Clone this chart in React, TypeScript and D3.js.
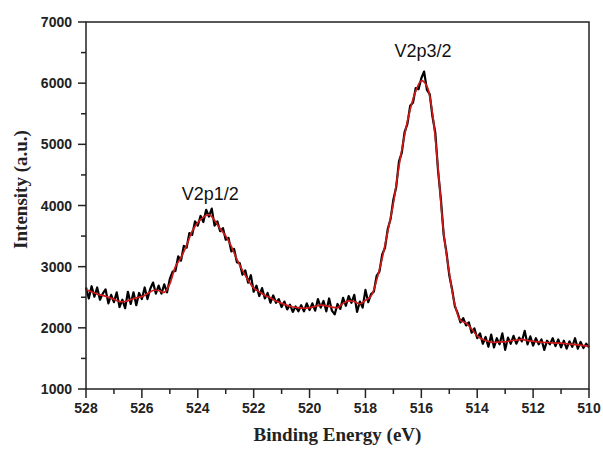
import React from "react";
import * as d3 from "d3";

const energyStart = 528;
const energyStep = 0.1;

const measured = [
  2660, 2480, 2680, 2510, 2660, 2460, 2560, 2630, 2400, 2540,
  2420, 2580, 2340, 2460, 2320, 2590, 2390, 2580, 2370, 2570,
  2470, 2660, 2470, 2640, 2740, 2560, 2690, 2560, 2710, 2580,
  2800, 2920, 2930, 3170, 3100, 3340, 3310, 3550, 3520, 3740,
  3670, 3830, 3730, 3930, 3820, 3950, 3670, 3740, 3580, 3630,
  3440, 3470, 3250, 3290, 3070, 3060, 2870, 2940, 2740, 2860,
  2590, 2690, 2520, 2650, 2480, 2570, 2410, 2530, 2410, 2470,
  2340, 2430, 2300, 2380, 2260, 2350, 2270, 2370, 2270, 2400,
  2290, 2400, 2280, 2470, 2330, 2440, 2270, 2480, 2280, 2220,
  2390, 2310, 2490, 2360, 2520, 2410, 2540, 2260, 2430, 2330,
  2620, 2420, 2550, 2590, 2850, 2920, 3200, 3310, 3620, 3780,
  4100, 4300, 4720, 4860, 5200, 5330, 5630, 5680, 5920, 5900,
  6080, 6190, 5890, 5820, 5450, 5190, 4560, 4100, 3520, 3230,
  2860, 2630, 2350, 2240, 2090, 2160, 2040, 2090, 1920, 1990,
  1830, 1910, 1740, 1850, 1690, 1890, 1680, 1830, 1730, 1910,
  1640, 1840, 1740, 1870, 1740, 1840, 1780, 1950, 1730, 1860,
  1710, 1830, 1730, 1810, 1640, 1790, 1730, 1830, 1700, 1810,
  1680, 1790, 1660, 1780, 1690, 1830, 1660, 1770, 1670, 1740,
  1680,
];

const fitStep = 0.2;
const fitted = [
  2620, 2590, 2550, 2530, 2500, 2470, 2430, 2430, 2460, 2490,
  2510, 2560, 2610, 2610, 2580, 2720, 3000, 3150, 3350, 3580,
  3720, 3810, 3850, 3760, 3620, 3500, 3330, 3120, 2940, 2780,
  2650, 2590, 2530, 2490, 2440, 2400, 2370, 2340, 2330, 2320,
  2330, 2350, 2370, 2360, 2340, 2330, 2400, 2440, 2430, 2390,
  2450, 2520, 2780, 3140, 3580, 4040, 4640, 5150, 5570, 5870,
  6040, 5950, 5500, 4600, 3550, 2900, 2380, 2120, 2080, 1980,
  1870, 1810, 1780, 1760, 1770, 1770, 1790, 1800, 1810, 1790,
  1780, 1770, 1760, 1760, 1750, 1750, 1740, 1730, 1720, 1710,
  1700,
];

const xTicks = [528, 526, 524, 522, 520, 518, 516, 514, 512, 510];
const xMinor = [527, 525, 523, 521, 519, 517, 515, 513, 511];
const yTicks = [1000, 2000, 3000, 4000, 5000, 6000, 7000];
const yMinor = [1500, 2500, 3500, 4500, 5500, 6500];

const peakLabels = [
  { text: "V2p1/2", energy: 523.55, value: 4090 },
  { text: "V2p3/2", energy: 515.94, value: 6430 },
];

const W = 603;
const H = 449;
const M = { left: 86, right: 14, top: 22, bottom: 60 };

export default function App() {
  const x = d3.scaleLinear().domain([528, 510]).range([M.left, W - M.right]);
  const y = d3.scaleLinear().domain([1000, 7000]).range([H - M.bottom, M.top]);

  const measPts: [number, number][] = measured.map((v, i) => [energyStart - i * energyStep, v]);
  const fitPts: [number, number][] = fitted.map((v, i) => [energyStart - i * fitStep, v]);

  const line = d3
    .line<[number, number]>()
    .x((d) => x(d[0]))
    .y((d) => y(d[1]));
  const smooth = d3
    .line<[number, number]>()
    .x((d) => x(d[0]))
    .y((d) => y(d[1]))
    .curve(d3.curveCatmullRom.alpha(0.5));

  const x0 = x(528);
  const x1 = x(510);
  const y0 = y(1000);
  const y1 = y(7000);
  const tickFont = "Liberation Sans, Arial, sans-serif";
  const titleFont = "Liberation Serif, Times New Roman, serif";

  return (
    <svg
      width={W}
      height={H}
      style={{ position: "absolute", left: 0, top: 0, background: "#fff" }}
    >
      <rect x={0} y={0} width={W} height={H} fill="#fff" />
      <path d={line(measPts) || ""} fill="none" stroke="#000" strokeWidth={2.2} strokeLinejoin="round" />
      <path d={smooth(fitPts) || ""} fill="none" stroke="#d11a1a" strokeWidth={1.7} strokeLinejoin="round" />
      <rect x={x0} y={y1} width={x1 - x0} height={y0 - y1} fill="none" stroke="#222" strokeWidth={1.5} />
      {xTicks.map((t) => (
        <g key={"xt" + t}>
          <line x1={x(t)} x2={x(t)} y1={y0} y2={y0 + 9} stroke="#222" strokeWidth={1.5} />
          <text x={x(t)} y={y0 + 24} textAnchor="middle" fontFamily={tickFont} fontWeight="bold" fontSize={14} fill="#222">
            {t}
          </text>
        </g>
      ))}
      {xMinor.map((t) => (
        <line key={"xm" + t} x1={x(t)} x2={x(t)} y1={y0} y2={y0 + 5} stroke="#222" strokeWidth={1.5} />
      ))}
      {yTicks.map((t) => (
        <g key={"yt" + t}>
          <line x1={x0 - 8} x2={x0} y1={y(t)} y2={y(t)} stroke="#222" strokeWidth={1.5} />
          <text x={x0 - 14} y={y(t) + 5} textAnchor="end" fontFamily={tickFont} fontWeight="bold" fontSize={14} fill="#222">
            {t}
          </text>
        </g>
      ))}
      {yMinor.map((t) => (
        <line key={"ym" + t} x1={x0 - 5} x2={x0} y1={y(t)} y2={y(t)} stroke="#222" strokeWidth={1.5} />
      ))}
      {peakLabels.map((p) => (
        <text key={p.text} x={x(p.energy)} y={y(p.value)} textAnchor="middle" fontFamily={tickFont} fontSize={18} fill="#111">
          {p.text}
        </text>
      ))}
      <text x={(x0 + x1) / 2} y={441} textAnchor="middle" fontFamily={titleFont} fontWeight="bold" fontSize={19} fill="#222">
        Binding Energy (eV)
      </text>
      <text
        transform={`translate(27, ${(y0 + y1) / 2 - 16}) rotate(-90)`}
        textAnchor="middle"
        fontFamily={titleFont}
        fontWeight="bold"
        fontSize={19}
        fill="#222"
      >
        Intensity (a.u.)
      </text>
    </svg>
  );
}
